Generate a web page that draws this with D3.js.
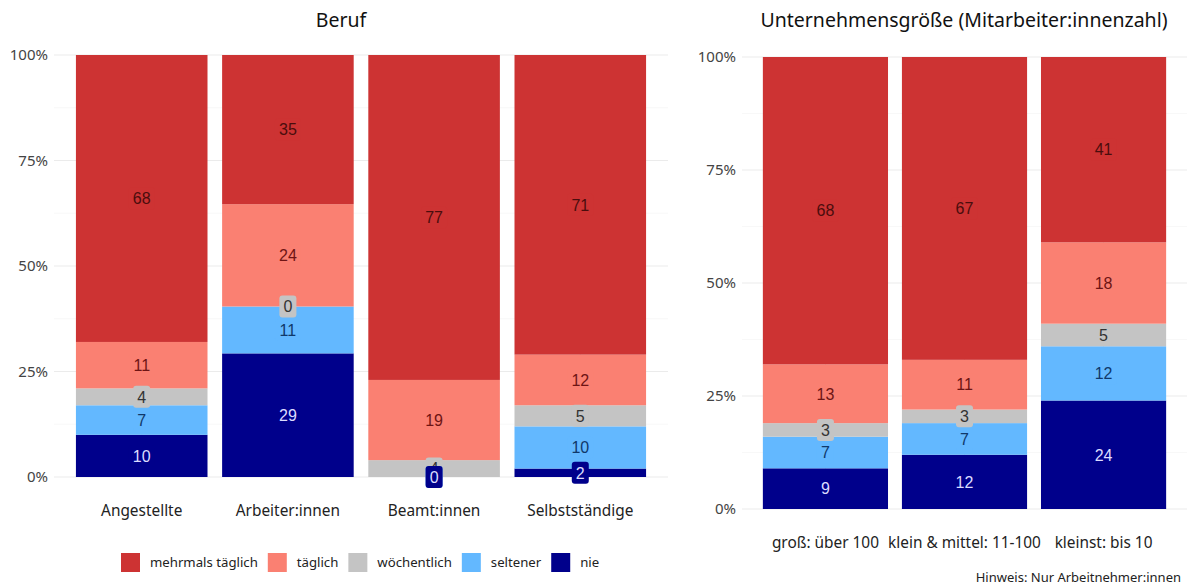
<!DOCTYPE html>
<html>
<head>
<meta charset="utf-8">
<script src="https://cdn.jsdelivr.net/npm/d3@7"></script>
<style>
  body { margin: 0; background: #fff; }
  svg { display: block; font-family: "Noto Sans", sans-serif; }
</style>
</head>
<body>
<svg id="chart" width="1189" height="586"></svg>
<script>
// categories, bottom to top of the stack
const levels = ["nie", "seltener", "wöchentlich", "täglich", "mehrmals täglich"];
const legendOrder = ["mehrmals täglich", "täglich", "wöchentlich", "seltener", "nie"];

const berufCats = ["Angestellte", "Arbeiter:innen", "Beamt:innen", "Selbstständige"];
const berufNie = [10, 29, 0, 2];
const berufSeltener = [7, 11, 0, 10];
const berufWoechentlich = [4, 0, 4, 5];
const berufTaeglich = [11, 24, 19, 12];
const berufMehrmals = [68, 35, 77, 71];

const groesseCats = ["groß: über 100", "klein & mittel: 11-100", "kleinst: bis 10"];
const groesseNie = [9, 12, 24];
const groesseSeltener = [7, 7, 12];
const groesseWoechentlich = [3, 3, 5];
const groesseTaeglich = [13, 11, 18];
const groesseMehrmals = [68, 67, 41];

const yTicks = [0, 0.25, 0.5, 0.75, 1];

const fill = d3.scaleOrdinal()
  .domain(levels)
  .range(["#00008b", "#63b8ff", "#c4c4c4", "#fa8072", "#cd3333"]);
const textCol = d3.scaleOrdinal()
  .domain(levels)
  .range(["#dcdcff", "#10386a", "#333333", "#6e1414", "#4a0d0d"]);

function build(cats, series) {
  // series in the order of levels
  return cats.map((c, i) => {
    const vals = series.map(s => s[i]);
    const total = d3.sum(vals);
    let acc = 0;
    return vals.map((v, j) => {
      const seg = { cat: c, level: levels[j], value: v, y0: acc / total, y1: (acc + v) / total };
      acc += v;
      return seg;
    });
  }).flat();
}

const svg = d3.select("#chart");

function panel(cfg) {
  const { cats, data, xRange, yRange, title, titleX } = cfg;
  const x = d3.scaleBand().domain(cats).range(xRange).paddingInner(0.1).paddingOuter(0.15);
  const y = d3.scaleLinear().domain([0, 1]).range(yRange);
  const g = svg.append("g");

  // grid
  const minor = [0.125, 0.375, 0.625, 0.875];
  g.selectAll(".minor").data(minor).join("line")
    .attr("x1", xRange[0]).attr("x2", xRange[1])
    .attr("y1", d => y(d)).attr("y2", d => y(d))
    .attr("stroke", "#f4f4f4").attr("stroke-width", 0.6);
  g.selectAll(".major").data(yTicks).join("line")
    .attr("x1", xRange[0]).attr("x2", xRange[1])
    .attr("y1", d => y(d)).attr("y2", d => y(d))
    .attr("stroke", "#ebebeb").attr("stroke-width", 1);
  g.selectAll(".vgrid").data(cats).join("line")
    .attr("x1", d => x(d) + x.bandwidth() / 2).attr("x2", d => x(d) + x.bandwidth() / 2)
    .attr("y1", yRange[1]).attr("y2", yRange[0])
    .attr("stroke", "#ebebeb").attr("stroke-width", 1);

  // y tick labels
  g.selectAll(".ylab").data(yTicks).join("text")
    .attr("x", xRange[0] - 6)
    .attr("y", d => y(d))
    .attr("dy", "0.35em")
    .attr("text-anchor", "end")
    .attr("fill", "#444")
    .style("font-size", "15px")
    .text(d => d3.format(".0%")(d));

  // bars
  g.selectAll(".bar").data(data).join("rect")
    .attr("x", d => x(d.cat))
    .attr("width", x.bandwidth())
    .attr("y", d => y(d.y1))
    .attr("height", d => y(d.y0) - y(d.y1))
    .attr("fill", d => fill(d.level));

  // value labels, top category first so "nie" ends on top
  const labs = data.slice().sort((a, b) => levels.indexOf(b.level) - levels.indexOf(a.level));
  const lg = g.selectAll(".lab").data(labs).join("g")
    .attr("transform", d => `translate(${x(d.cat) + x.bandwidth() / 2},${y((d.y0 + d.y1) / 2)})`);
  lg.append("rect")
    .attr("x", d => -(String(d.value).length * 4.5 + 4))
    .attr("width", d => String(d.value).length * 9 + 8)
    .attr("y", -11).attr("height", 22)
    .attr("rx", 3)
    .attr("fill", d => fill(d.level));
  lg.append("text")
    .attr("text-anchor", "middle")
    .attr("dy", "0.36em")
    .attr("fill", d => textCol(d.level))
    .style("font-family", "'Liberation Sans', Arial, sans-serif")
    .style("font-size", "16px")
    .text(d => d.value);

  // x labels
  g.selectAll(".xlab").data(cats).join("text")
    .attr("x", d => x(d) + x.bandwidth() / 2)
    .attr("y", yRange[0] + 39)
    .attr("text-anchor", "middle")
    .attr("fill", "#222")
    .style("font-size", "15.4px")
    .text(d => d);

  g.append("text")
    .attr("x", titleX).attr("y", 27)
    .attr("text-anchor", "middle")
    .attr("fill", "#111")
    .style("font-size", "19.5px")
    .text(title);
}

panel({
  cats: berufCats,
  data: build(berufCats, [berufNie, berufSeltener, berufWoechentlich, berufTaeglich, berufMehrmals]),
  xRange: [54, 668], yRange: [477, 55],
  title: "Beruf", titleX: 341
});

panel({
  cats: groesseCats,
  data: build(groesseCats, [groesseNie, groesseSeltener, groesseWoechentlich, groesseTaeglich, groesseMehrmals]),
  xRange: [742, 1187], yRange: [509, 57],
  title: "Unternehmensgröße (Mitarbeiter:innenzahl)", titleX: 964
});

// legend
const leg = svg.append("g").attr("transform", "translate(121,553)");
let lx = 0;
legendOrder.forEach(k => {
  const it = leg.append("g").attr("transform", `translate(${lx},0)`);
  it.append("rect").attr("width", 19).attr("height", 19).attr("fill", fill(k));
  const t = it.append("text").attr("x", 29).attr("y", 9.5).attr("dy", "0.35em")
    .attr("fill", "#222").style("font-size", "13.2px").text(k);
  lx += 29 + t.node().getComputedTextLength() + 10;
});

svg.append("text")
  .attr("x", 1181).attr("y", 582)
  .attr("text-anchor", "end")
  .attr("fill", "#222")
  .style("font-size", "13px")
  .text("Hinweis: Nur Arbeitnehmer:innen");
</script>
</body>
</html>
